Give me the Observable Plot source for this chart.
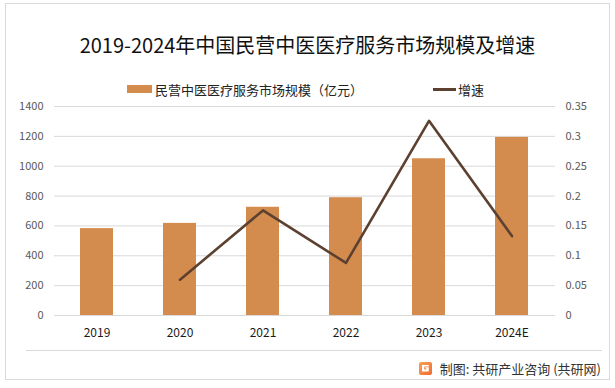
<!DOCTYPE html>
<html>
<head>
<meta charset="utf-8">
<script src="https://cdn.jsdelivr.net/npm/d3@7"></script>
<script src="https://cdn.jsdelivr.net/npm/@observablehq/plot@0.6"></script>
<style>
  html, body { margin: 0; padding: 0; background: #fff; }
  #wrap { position: relative; width: 615px; height: 388px; overflow: hidden; font-family: "Noto Sans CJK SC", "Noto Sans", sans-serif; }
  #frame { position: absolute; left: 5px; top: 3px; width: 605px; height: 377px; border: 1px solid #d9d9d9; box-sizing: border-box; }
  #title { position: absolute; left: 0; width: 615px; top: 30px; text-align: center; font-size: 20px; color: #111; line-height: 30px; }
  #legend { position: absolute; top: 80px; left: 0; width: 615px; height: 18px; font-size: 13px; color: #222; }
  .lg { position: absolute; top: 0; display: flex; align-items: center; height: 18px; }
  .sw { display: inline-block; width: 25px; height: 8px; margin-right: 3px; }
  .ln { display: inline-block; width: 23px; height: 3px; margin-right: 2px; }
  #chart { position: absolute; left: 0; top: 96px; }
  #sep { position: absolute; left: 26px; top: 350px; width: 576px; height: 1px; background: #d9d9d9; }
  #footer { position: absolute; top: 358px; right: 14px; display: flex; align-items: center; font-size: 13px; color: #333; height: 20px; }
  #logo { width: 13px; height: 13px; border-radius: 2px; background: linear-gradient(135deg, #f7a35a, #f06a2e); margin-right: 8px; position: relative; }
  #logo::after { content: ""; position: absolute; left: 3px; top: 3px; width: 7px; height: 7px; background: #fff; clip-path: polygon(0 0,100% 0,100% 30%,35% 30%,35% 70%,65% 70%,65% 55%,50% 55%,50% 40%,100% 40%,100% 100%,0 100%); }
</style>
</head>
<body>
<div id="wrap">
  <div id="frame"></div>
  <div id="title">2019-2024年中国民营中医医疗服务市场规模及增速</div>
  <div id="legend">
    <div class="lg" style="left:127px"><span class="sw" style="background:#d48c4e"></span><span>民营中医医疗服务市场规模（亿元）</span></div>
    <div class="lg" style="left:433px"><span class="ln" style="background:#5c4130"></span><span>增速</span></div>
  </div>
  <div id="chart"></div>
  <div id="sep"></div>
  <div id="footer"><div id="logo"></div><span>制图: 共研产业咨询 (共研网)</span></div>
</div>
<script>
const years = ["2019", "2020", "2021", "2022", "2023", "2024E"];
const scaleValues = [582, 617, 725, 789, 1050, 1193];
const growthYears = ["2020", "2021", "2022", "2023", "2024E"];
const growthValues = [0.06, 0.176, 0.088, 0.326, 0.133];
const leftTicks = [0, 200, 400, 600, 800, 1000, 1200, 1400];
const rightTickLabels = ["0", "0.05", "0.1", "0.15", "0.2", "0.25", "0.3", "0.35"];

const ratio = 1400 / 0.35; // right-axis value -> left-axis units
const bars = years.map((y, i) => ({year: y, value: scaleValues[i]}));
const growth = growthYears.map((y, i) => ({year: y, g: growthValues[i]}));

const plot = Plot.plot({
  width: 615,
  height: 250,
  marginLeft: 54,
  marginRight: 60,
  marginTop: 10,
  marginBottom: 31,
  style: {fontFamily: "'Noto Sans CJK SC', 'Noto Sans', sans-serif", fontSize: "11px", color: "#595959", background: "transparent"},
  x: {domain: years, paddingInner: 0.6, paddingOuter: 0.3, label: null},
  y: {domain: [0, 1400], label: null},
  marks: [
    Plot.gridY(leftTicks, {stroke: "#d9d9d9", strokeOpacity: 1, strokeWidth: 1}),
    Plot.axisY(leftTicks, {anchor: "left", tickSize: 0, tickPadding: 11, label: null, fill: "#595959",
      tickFormat: d => String(d)}),
    Plot.axisY(leftTicks, {anchor: "right", tickSize: 0, tickPadding: 10, label: null, fill: "#595959",
      tickFormat: d => rightTickLabels[leftTicks.indexOf(d)]}),
    Plot.axisX({tickSize: 0, tickPadding: 13, label: null, fill: "#1a1a1a", fontSize: 12}),
    Plot.barY(bars, {x: "year", y: "value", fill: "#d48c4e"}),
    Plot.line(growth, {x: "year", y: d => d.g * ratio, stroke: "#5c4130", strokeWidth: 2.6, curve: "linear"})
  ]
});
document.getElementById("chart").appendChild(plot);
</script>
</body>
</html>
